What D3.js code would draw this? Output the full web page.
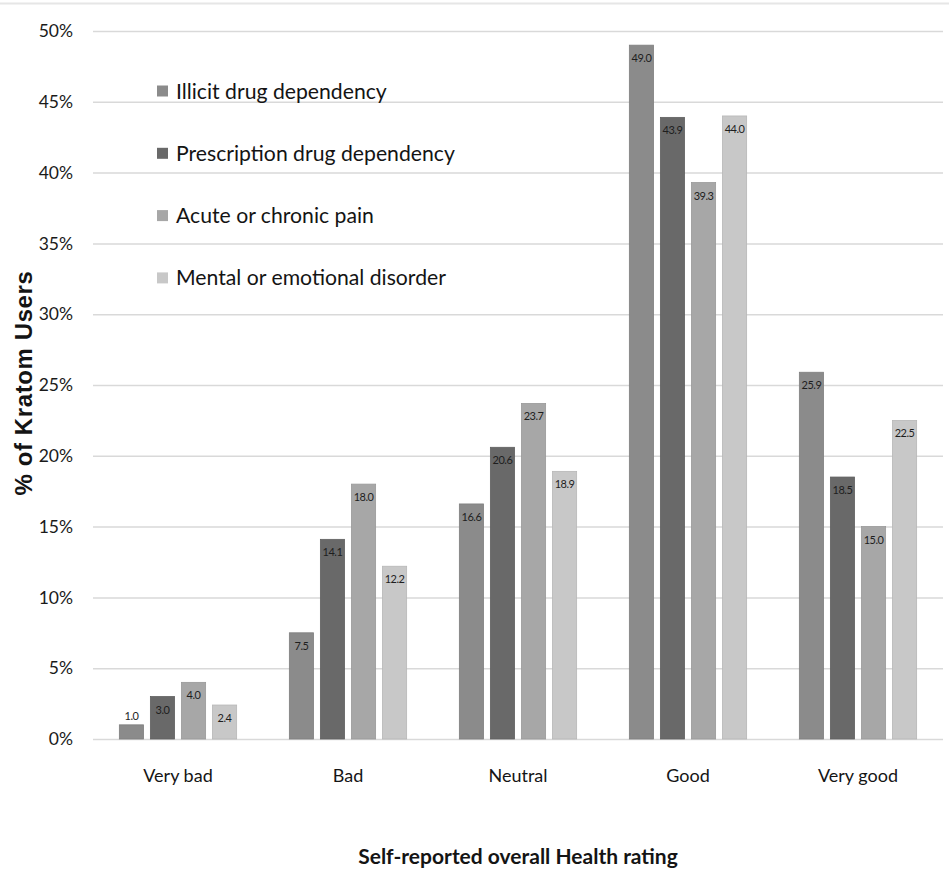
<!DOCTYPE html>
<html>
<head>
<meta charset="utf-8">
<script src="https://cdn.jsdelivr.net/npm/d3@7/dist/d3.min.js"></script>
<style>
  html, body { margin: 0; padding: 0; background: #fff; }
  svg { display: block; }
  text { font-family: Lato, "Open Sans", sans-serif; }
</style>
</head>
<body>
<svg id="chart" width="949" height="873"></svg>
<script>
// Health-rating categories on the x axis
const categories = ["Very bad", "Bad", "Neutral", "Good", "Very good"];

// Reason for kratom use (one series per reason)
const seriesNames = [
  "Illicit drug dependency",
  "Prescription drug dependency",
  "Acute or chronic pain",
  "Mental or emotional disorder"
];

// Percent of users per rating, in category order
const illicitDrug      = [1.0, 7.5, 16.6, 49.0, 25.9];
const prescriptionDrug = [3.0, 14.1, 20.6, 43.9, 18.5];
const acuteChronicPain = [4.0, 18.0, 23.7, 39.3, 15.0];
const mentalEmotional  = [2.4, 12.2, 18.9, 44.0, 22.5];

const yTicks = [0, 5, 10, 15, 20, 25, 30, 35, 40, 45, 50];

const seriesValues = [illicitDrug, prescriptionDrug, acuteChronicPain, mentalEmotional];
const colors = ["#8b8b8b", "#696969", "#a7a7a7", "#c8c8c8"];

const svg = d3.select("#chart");
const margin = { left: 93, right: 6, top: 31, bottom: 134 };
const W = 949, H = 873;

const x0 = d3.scaleBand()
  .domain(categories)
  .range([margin.left, W - margin.right])
  .paddingInner(0.31)
  .paddingOuter(0.155);

const x1 = d3.scaleBand()
  .domain(d3.range(seriesNames.length))
  .range([0, x0.bandwidth()])
  .paddingInner(0.22);

const y = d3.scaleLinear()
  .domain([0, 50])
  .range([H - margin.bottom, margin.top]);

// faint frame line along the top
svg.append("line")
  .attr("x1", 0).attr("x2", W)
  .attr("y1", 3.5).attr("y2", 3.5)
  .attr("stroke", "#e6e6e6").attr("stroke-width", 2);

// horizontal gridlines + tick labels
const yAxis = d3.axisLeft(y)
  .tickValues(yTicks)
  .tickSize(-(W - margin.right - margin.left))
  .tickFormat(d => d + "%");

const gy = svg.append("g")
  .attr("transform", `translate(${margin.left},0)`)
  .call(yAxis);
gy.select(".domain").remove();
gy.selectAll(".tick line")
  .attr("stroke", "#d9d9d9")
  .attr("stroke-width", 1.5);
gy.selectAll(".tick text")
  .attr("x", -20)
  .attr("fill", "#1a1a1a")
  .style("font-size", "17.5px")
  .style("font-family", "Lato, sans-serif");

// grouped bars
const groups = svg.append("g")
  .selectAll("g")
  .data(categories)
  .join("g")
  .attr("transform", d => `translate(${x0(d)},0)`);

const cells = groups.selectAll("g.cell")
  .data((c, ci) => seriesValues.map((vals, si) => ({ si, v: vals[ci] })))
  .join("g")
  .attr("class", "cell");

cells.append("rect")
  .attr("x", d => x1(d.si))
  .attr("width", x1.bandwidth())
  .attr("y", d => y(d.v))
  .attr("height", d => y(0) - y(d.v))
  .attr("fill", d => colors[d.si])
  .attr("stroke", d => d3.color(colors[d.si]).darker(0.25))
  .attr("stroke-width", 0.8);

cells.append("text")
  .attr("x", d => x1(d.si) + x1.bandwidth() / 2)
  .attr("y", d => (y(0) - y(d.v) < 22) ? y(d.v) - 5 : y(d.v) + 17)
  .attr("text-anchor", "middle")
  .attr("fill", "#1e1e1e")
  .style("font-size", "11px")
  .style("letter-spacing", "-0.5px")
  .text(d => d.v.toFixed(1));

// category labels
svg.append("g")
  .selectAll("text")
  .data(categories)
  .join("text")
  .attr("x", d => x0(d) + x0.bandwidth() / 2)
  .attr("y", H - margin.bottom + 43)
  .attr("text-anchor", "middle")
  .attr("fill", "#151515")
  .style("font-size", "18px")
  .text(d => d);

// legend
const legend = svg.append("g")
  .attr("transform", "translate(157,91)");
const rows = legend.selectAll("g")
  .data(seriesNames)
  .join("g")
  .attr("transform", (d, i) => `translate(0,${i * 62.3})`);
rows.append("rect")
  .attr("x", 0).attr("y", -5.5)
  .attr("width", 11).attr("height", 11)
  .attr("fill", (d, i) => colors[i]);
rows.append("text")
  .attr("x", 19)
  .attr("y", 7.5)
  .attr("fill", "#141414")
  .style("font-size", "21.2px")
  .text(d => d);

// axis titles
svg.append("text")
  .attr("transform", "translate(32,383) rotate(-90)")
  .attr("text-anchor", "middle")
  .attr("fill", "#141414")
  .style("font-family", "'Liberation Sans', Arial, sans-serif")
  .style("font-weight", "bold")
  .style("font-size", "24px")
  .style("letter-spacing", "0.6px")
  .text("% of Kratom Users");

svg.append("text")
  .attr("x", 518)
  .attr("y", 864)
  .attr("text-anchor", "middle")
  .attr("fill", "#141414")
  .style("font-weight", "bold")
  .style("font-size", "21px")
  .text("Self-reported overall Health rating");
</script>
</body>
</html>
